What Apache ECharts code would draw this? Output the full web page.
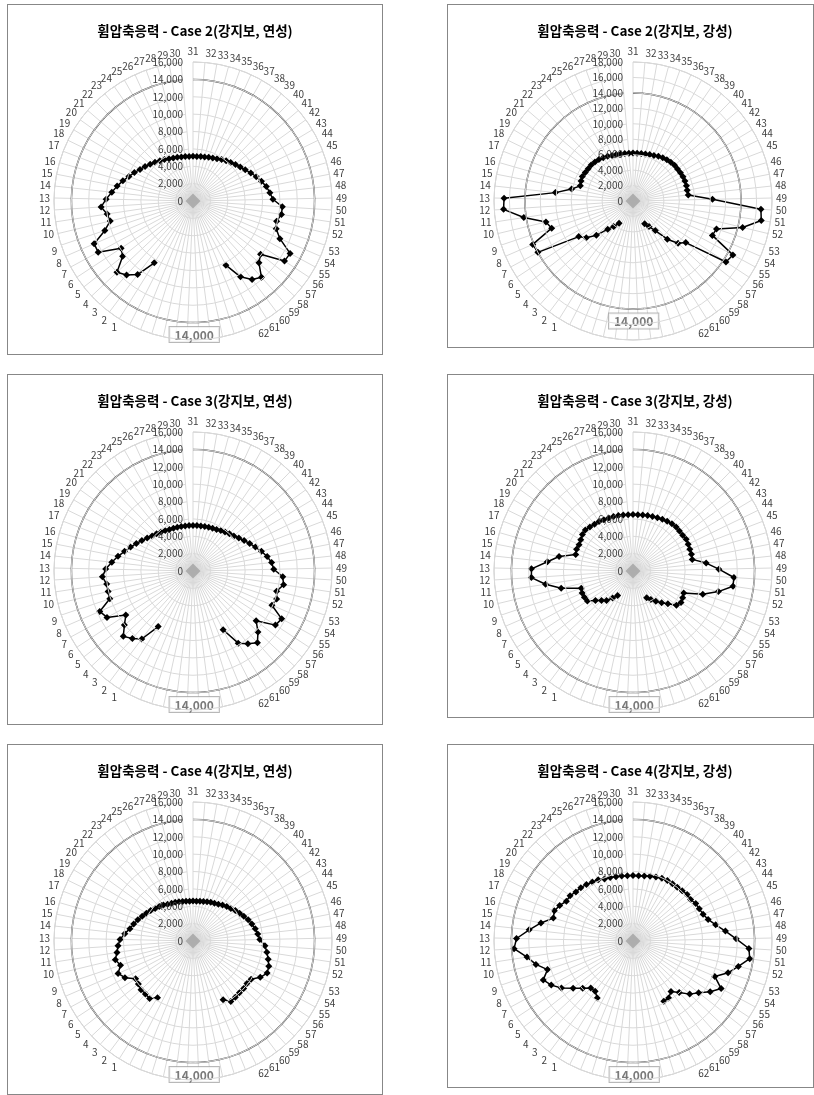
<!DOCTYPE html>
<html><head><meta charset="utf-8">
<script src="https://cdn.jsdelivr.net/npm/echarts@6/dist/echarts.min.js"></script>
<style>
html,body{margin:0;padding:0;background:#fff;width:814px;height:1095px;overflow:hidden;position:relative}
.box{position:absolute;border:1px solid #878787;box-sizing:border-box;background:#fff}
.box>div{position:absolute;left:0;top:0;right:0;bottom:0}
</style></head><body>
<script>
// ---- data ----
const titles = [
  '휨압축응력 - Case 2(강지보, 연성)',
  '휨압축응력 - Case 2(강지보, 강성)',
  '휨압축응력 - Case 3(강지보, 연성)',
  '휨압축응력 - Case 3(강지보, 강성)',
  '휨압축응력 - Case 4(강지보, 연성)',
  '휨압축응력 - Case 4(강지보, 강성)'
];
// node labels 1..62
const nodes = ['1','2','3','4','5','6','7','8','9','10','11','12','13','14','15','16','17','18','19','20',
  '21','22','23','24','25','26','27','28','29','30','31','32','33','34','35','36','37','38','39','40',
  '41','42','43','44','45','46','47','48','49','50','51','52','53','54','55','56','57','58','59','60','61','62'];
const blankCount = 11;          // unlabeled categories between node 62 and node 1
const limitValue = 14000;       // allowable stress circle
const axisMax = [16000, 18000, 16000, 16000, 16000, 16000];
const radialTicks = 2000;

const case2Ductile = [8400,10600,11450,12000,10300,9900,12400,12400,10700,9800,
  10000,10600,10000,9400,8900,8400,7900,7500,7100,6800,
  6500,6250,6000,5800,5600,5450,5350,5250,5200,5150,
  5150,5150,5200,5250,5350,5450,5600,5800,6000,6200,
  6450,6700,7000,7400,7800,8200,8600,8900,9200,10300,
  10300,9900,10100,10900,12700,12600,9900,10400,11800,11300,
  10300,8300];
const case2Rigid = [3400,4150,4900,6500,7700,8400,14000,14150,11100,11600,
  14300,16800,16700,10100,8100,7100,7200,7300,7200,7150,
  7150,7050,6950,6800,6650,6500,6400,6300,6250,6200,
  6200,6200,6250,6300,6400,6500,6650,6800,6900,7000,
  7100,7100,7150,7200,7200,7200,7150,7200,10300,16600,
  16800,14600,11400,11200,14700,14400,8700,8000,6650,4800,
  3900,3300];
const case3Ductile = [7550,9800,10450,11000,10050,9250,11250,11700,10100,10050,
  10050,10450,10050,9400,8800,8200,7700,7250,6850,6500,
  6200,6000,5800,5650,5500,5400,5350,5300,5250,5250,
  5250,5250,5250,5300,5350,5400,5500,5650,5800,6000,
  6200,6500,6850,7250,7700,8200,8700,9100,9300,10350,
  10550,9900,10150,9900,11600,11350,9250,10250,11100,10500,
  9800,7600];
const case3Rigid = [3330,3900,4560,4970,5500,6280,6360,6380,6280,8500,
  10180,11720,11690,9910,8670,6860,6960,6900,7000,7170,
  7240,7100,6970,6900,6800,6700,6650,6600,6550,6500,
  6500,6500,6550,6600,6650,6750,6850,6950,7050,7100,
  7050,7050,7130,7060,7000,7000,6950,8470,9890,11640,
  11640,10110,8470,6360,6500,6610,6360,5500,4930,4370,
  3880,3460];
const case4Ductile = [7700,8300,8200,8200,8000,7900,8900,9400,8800,9200,
  8850,8650,8400,7900,7400,7100,6800,6500,6250,6000,
  5750,5550,5350,5150,5000,4900,4800,4700,4650,4600,
  4600,4600,4650,4700,4800,4900,5000,5150,5350,5550,
  5750,6000,6250,6500,6800,7050,7300,7500,7700,8300,
  8600,8900,9200,9300,8800,8000,7900,8000,8000,8100,
  8200,7600];
const case4Rigid = [7750,7240,7280,7940,8770,9850,10690,11260,10380,11490,
  12340,13720,13410,12020,10800,9540,9700,9380,8930,8930,
  8670,8590,8430,8250,8120,7860,7780,7650,7600,7550,
  7550,7550,7600,7700,7830,7960,8010,8010,8020,8100,
  8220,8170,8410,8480,8640,9000,9700,10700,11880,13370,
  13590,12480,11540,10260,11530,10630,9620,8940,7960,7270,
  7730,7780];
const seriesValues = [case2Ductile, case2Rigid, case3Ductile, case3Rigid, case4Ductile, case4Rigid];

// ---- layout ----
const boxes = [
  {l:7,  t:4,   w:376, h:351},
  {l:447,t:4,   w:367, h:344},
  {l:7,  t:374, w:376, h:351},
  {l:447,t:374, w:367, h:344},
  {l:7,  t:744, w:376, h:351},
  {l:447,t:744, w:367, h:344}
];
const FONT = '"Noto Sans CJK KR", "Noto Sans", sans-serif';

// angle categories: node 31 at top, clockwise to 62, blanks, 1..30
const angleCats = nodes.slice(30).concat(Array.from({length: blankCount}, (_, k) => 'gap' + k)).concat(nodes.slice(0, 30));
const nCat = angleCats.length;
const catIndex = name => angleCats.indexOf(name);
const fmt = v => Number(v).toLocaleString('en-US');

// Excel-like label anchoring near the top: shift centred labels so they start/end at the spoke
function angleLabel(v, k) {
  if (v.indexOf('gap') === 0) return '';
  if (k === 0) return '{top|' + v + '}';
  const deg = k * 360 / nCat;
  const nearTop = Math.abs(Math.sin(deg * Math.PI / 180)) < 0.3 && Math.cos(deg * Math.PI / 180) > 0;
  if (!nearTop) return v;
  return (deg < 180 ? '{r' : '{l') + v.length + '|' + v + '}';
}
const DIGIT_W = 5.7;
const labelRich = {
  top: {padding: [0, 0, 2, 0]},
  r1: {padding: [0, 0, 0, DIGIT_W * 1]}, r2: {padding: [0, 0, 0, DIGIT_W * 2]},
  l1: {padding: [0, DIGIT_W * 1, 0, 0]}, l2: {padding: [0, DIGIT_W * 2, 0, 0]}
};

boxes.forEach((b, i) => {
  const box = document.createElement('div');
  box.className = 'box';
  box.style.left = b.l + 'px'; box.style.top = b.t + 'px';
  box.style.width = b.w + 'px'; box.style.height = b.h + 'px';
  const inner = document.createElement('div');
  box.appendChild(inner);
  document.body.appendChild(box);
  const chart = echarts.init(inner, null, {renderer: 'canvas'});

  const lineData = seriesValues[i].map((v, k) => [v, catIndex(nodes[k])]);
  const ringData = angleCats.map((c, k) => [limitValue, k]).concat([[limitValue, 0]]);
  const bottomIdx = Math.floor(nCat / 2);
  const richFor = {};
  Object.keys(labelRich).forEach(key => {
    richFor[key] = Object.assign({fontSize: 10, color: '#404040', fontFamily: FONT}, labelRich[key]);
  });

  chart.setOption({
    animation: false,
    title: {
      text: titles[i], left: 187, top: 19, textAlign: 'center', padding: 0,
      textStyle: {fontSize: 13.5, fontWeight: 'bold', color: '#000', fontFamily: FONT}
    },
    polar: {center: [185, 196], radius: 139},
    angleAxis: {
      type: 'category', data: angleCats, startAngle: 90, clockwise: true, boundaryGap: false,
      axisLine: {show: true, lineStyle: {color: '#c8c8c8', width: 1}},
      axisTick: {show: false},
      axisLabel: {interval: 0, margin: 4, color: '#404040', fontSize: 10, fontFamily: FONT,
        formatter: (v, k) => angleLabel(v, k), rich: richFor},
      splitLine: {show: true, interval: 0, lineStyle: {color: '#d9d9d9', width: 1}}
    },
    radiusAxis: {
      type: 'value', min: 0, max: axisMax[i], interval: radialTicks,
      axisLine: {show: false}, axisTick: {show: false},
      axisLabel: {color: '#404040', fontSize: 10, fontFamily: FONT, margin: 10,
        showMinLabel: true, showMaxLabel: true, formatter: v => fmt(v)},
      splitLine: {show: true, lineStyle: {color: '#d9d9d9', width: 1}},
      z: 10
    },
    series: [
      {
        type: 'line', coordinateSystem: 'polar', data: ringData, symbol: 'none', silent: true,
        lineStyle: {color: '#505050', width: 1.5}, z: 2
      },
      {
        type: 'scatter', coordinateSystem: 'polar', data: [[limitValue, bottomIdx]], symbolSize: 1,
        itemStyle: {color: 'transparent'}, silent: true, z: 6,
        label: {show: true, position: 'bottom', distance: 4, offset: [-4, 0],
          formatter: () => fmt(limitValue), color: '#595959', fontSize: 12, fontWeight: 'bold',
          fontFamily: FONT, backgroundColor: '#fff', borderColor: '#a6a6a6', borderWidth: 1,
          padding: [2, 5, 1, 5]}
      },
      {
        type: 'scatter', coordinateSystem: 'polar', data: [[0, 0]], symbol: 'diamond',
        symbolSize: 15, itemStyle: {color: '#a3a3a3'}, silent: true, z: 3
      },
      {
        type: 'line', coordinateSystem: 'polar', data: lineData, symbol: 'diamond', symbolSize: 7,
        itemStyle: {color: '#000'}, lineStyle: {color: '#000', width: 1.5}, z: 5, silent: true
      }
    ]
  });
});
</script>
</body></html>
